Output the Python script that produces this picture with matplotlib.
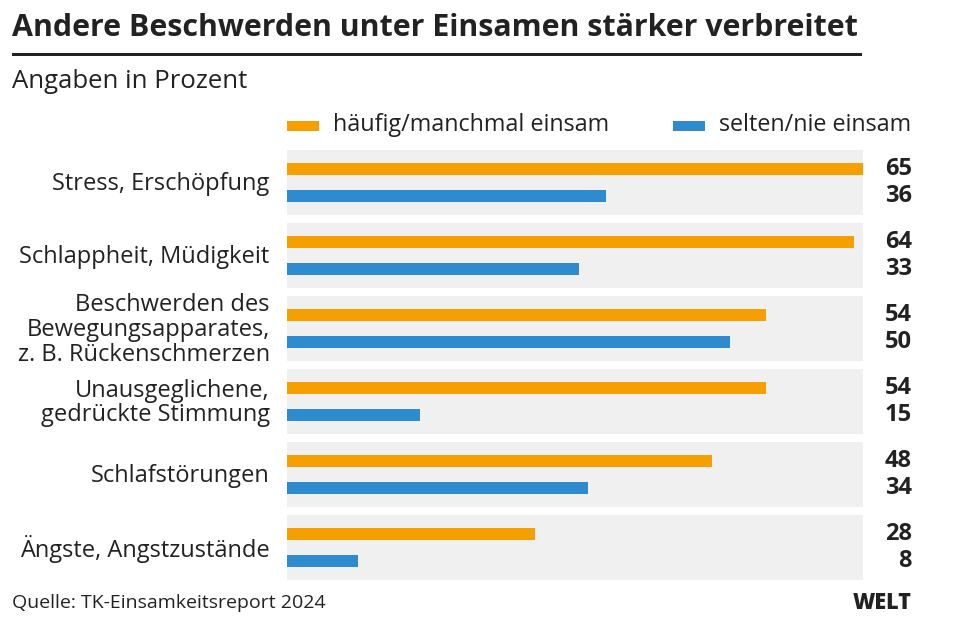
import matplotlib.pyplot as plt
from matplotlib.patches import Rectangle

# Daten
categories = [
    "Stress, Erschöpfung",
    "Schlappheit, Müdigkeit",
    "Beschwerden des\nBewegungsapparates,\nz. B. Rückenschmerzen",
    "Unausgeglichene,\ngedrückte Stimmung",
    "Schlafstörungen",
    "Ängste, Angstzustände",
]
einsam = [65, 64, 54, 54, 48, 28]
nicht_einsam = [36, 33, 50, 15, 34, 8]
series_labels = ["häufig/manchmal einsam", "selten/nie einsam"]

ORANGE = "#f5a000"
BLUE = "#2e8bd0"
GREY = "#f0f0f0"
TEXT = "#222222"

plt.rcParams["font.family"] = ["Open Sans", "DejaVu Sans"]

fig = plt.figure(figsize=(9.64, 6.3), dpi=100)
ax = fig.add_axes([287 / 964, 1 - 580 / 630, 576 / 964, 430 / 630])

xmax = 65
y = list(range(len(categories)))
ax.barh(y, [xmax] * len(y), height=0.89, color=GREY, zorder=0)
ax.barh([v - 0.185 for v in y], einsam, height=0.165, color=ORANGE, zorder=2)
ax.barh([v + 0.185 for v in y], nicht_einsam, height=0.165, color=BLUE, zorder=2)

ax.set_xlim(0, xmax)
ax.set_ylim(5.445, -0.445)
ax.axis("off")

tr = ax.get_yaxis_transform()
for i, cat in enumerate(categories):
    ax.text(-0.03, i + 0.02, cat, transform=tr, ha="right", va="center",
            fontsize=17, color=TEXT, linespacing=1.05)
    ax.text(1.085, i - 0.185, str(einsam[i]), transform=tr, ha="right",
            va="center", fontsize=17, fontweight="bold", color=TEXT)
    ax.text(1.085, i + 0.185, str(nicht_einsam[i]), transform=tr, ha="right",
            va="center", fontsize=17, fontweight="bold", color=TEXT)

# Titel und Linie
fig.text(12 / 964, 1 - 28 / 630, "Andere Beschwerden unter Einsamen stärker verbreitet",
         ha="left", va="center", fontsize=21.9, fontweight="bold", color=TEXT)
fig.add_artist(Rectangle((12 / 964, 1 - 56 / 630), 850 / 964, 3 / 630,
                         transform=fig.transFigure, color=TEXT, lw=0))
fig.text(12 / 964, 1 - 81 / 630, "Angaben in Prozent", ha="left", va="center",
         fontsize=18.5, color=TEXT)

# Legende
for x0, col, lab in [(287, ORANGE, series_labels[0]), (673, BLUE, series_labels[1])]:
    fig.add_artist(Rectangle((x0 / 964, 1 - 131 / 630), 32 / 964, 10 / 630,
                             transform=fig.transFigure, color=col, lw=0))
    fig.text((x0 + 46) / 964, 1 - 125 / 630, lab, ha="left", va="center",
             fontsize=16.8, color=TEXT)

# Quelle
fig.text(12 / 964, 1 - 603 / 630, "Quelle: TK-Einsamkeitsreport 2024", ha="left",
         va="center", fontsize=14, color=TEXT)
fig.text(912 / 964, 1 - 603 / 630, "WELT", ha="right", va="center",
         fontsize=15.5, fontweight="heavy", color=TEXT)

fig.savefig("out.png", dpi=100, facecolor="white")
